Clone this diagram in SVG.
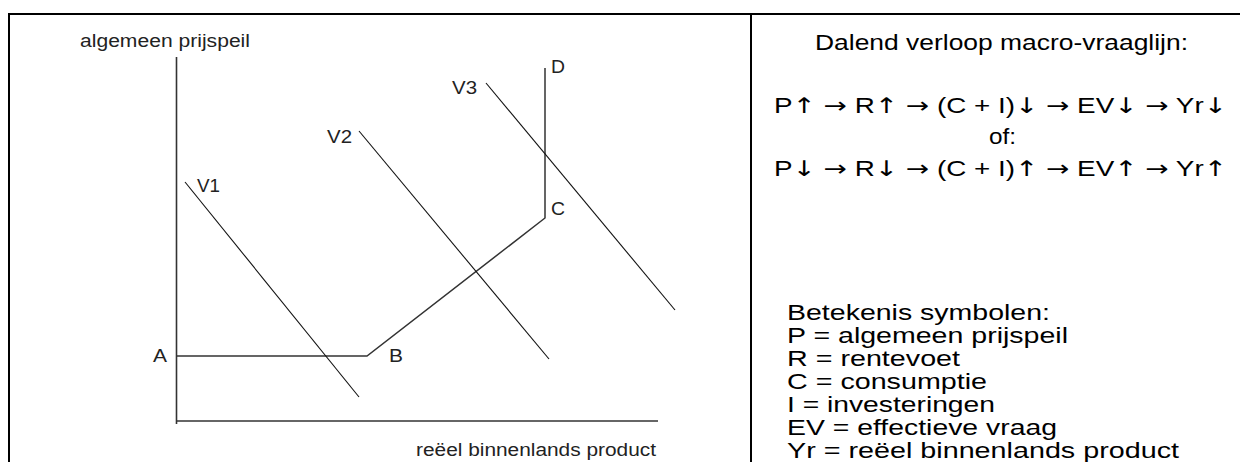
<svg xmlns="http://www.w3.org/2000/svg" width="1240" height="462" viewBox="0 0 1240 462">
<style>
.lbl{font-family:"Liberation Sans",Arial,sans-serif;font-size:17.5px;fill:#222}
.rt{font-family:"Liberation Sans",Arial,sans-serif;font-size:21.5px;fill:#000}
.ar{font-family:"DejaVu Sans",sans-serif;font-weight:normal}
.axis{stroke:#333;stroke-width:1.6;fill:none}
.curve{stroke:#111;stroke-width:1.1;fill:none}
.path{stroke:#333;stroke-width:1.5;fill:none}
</style>
<rect width="1240" height="462" fill="#fff"/>
<g id="frame">
<rect x="9" y="14" width="1240" height="470" fill="none" stroke="#000" stroke-width="2"/>
<line x1="751" y1="14" x2="751" y2="462" stroke="#000" stroke-width="2"/>
</g>
<g id="axes">
<line class="axis" x1="176.5" y1="57" x2="176.5" y2="424"/>
<line class="axis" x1="176" y1="421" x2="658" y2="421"/>
<text class="lbl" x="80" y="47" textLength="170" lengthAdjust="spacingAndGlyphs">algemeen prijspeil</text>
<text class="lbl" x="416" y="456" textLength="240" lengthAdjust="spacingAndGlyphs">reëel binnenlands product</text>
</g>
<g id="connectors">
<polyline class="path" points="176,356 367,356 545,218 545,68"/>
<line class="curve" x1="185" y1="182" x2="359" y2="397"/>
<line class="curve" x1="359" y1="131" x2="549" y2="359"/>
<line class="curve" x1="486" y1="83" x2="675" y2="310"/>
</g>
<g id="node-A"><text class="lbl" x="153" y="362" textLength="14" lengthAdjust="spacingAndGlyphs">A</text></g>
<g id="node-B"><text class="lbl" x="389" y="362" textLength="14" lengthAdjust="spacingAndGlyphs">B</text></g>
<g id="node-C"><text class="lbl" x="551" y="215" textLength="14" lengthAdjust="spacingAndGlyphs">C</text></g>
<g id="node-D"><text class="lbl" x="551" y="73" textLength="14" lengthAdjust="spacingAndGlyphs">D</text></g>
<g id="node-V1"><text class="lbl" x="197" y="192" textLength="23" lengthAdjust="spacingAndGlyphs">V1</text></g>
<g id="node-V2"><text class="lbl" x="327" y="143" textLength="25" lengthAdjust="spacingAndGlyphs">V2</text></g>
<g id="node-V3"><text class="lbl" x="452" y="94" textLength="25" lengthAdjust="spacingAndGlyphs">V3</text></g>
<g id="explanation">
<text class="rt" x="815" y="50" textLength="373" lengthAdjust="spacingAndGlyphs">Dalend verloop macro-vraaglijn:</text>
<text class="rt" x="774" y="113" textLength="453" lengthAdjust="spacingAndGlyphs">P<tspan class="ar">↑</tspan> <tspan class="ar">→</tspan> R<tspan class="ar">↑</tspan> <tspan class="ar">→</tspan> (C + I)<tspan class="ar">↓</tspan> <tspan class="ar">→</tspan> EV<tspan class="ar">↓</tspan> <tspan class="ar">→</tspan> Yr<tspan class="ar">↓</tspan></text>
<text class="rt" x="989" y="144" textLength="27" lengthAdjust="spacingAndGlyphs">of:</text>
<text class="rt" x="774" y="176" textLength="453" lengthAdjust="spacingAndGlyphs">P<tspan class="ar">↓</tspan> <tspan class="ar">→</tspan> R<tspan class="ar">↓</tspan> <tspan class="ar">→</tspan> (C + I)<tspan class="ar">↑</tspan> <tspan class="ar">→</tspan> EV<tspan class="ar">↑</tspan> <tspan class="ar">→</tspan> Yr<tspan class="ar">↑</tspan></text>
<text class="rt" x="787" y="320" textLength="263" lengthAdjust="spacingAndGlyphs">Betekenis symbolen:</text>
<text class="rt" x="787" y="343" textLength="281" lengthAdjust="spacingAndGlyphs">P = algemeen prijspeil</text>
<text class="rt" x="787" y="366" textLength="173" lengthAdjust="spacingAndGlyphs">R = rentevoet</text>
<text class="rt" x="787" y="389" textLength="200" lengthAdjust="spacingAndGlyphs">C = consumptie</text>
<text class="rt" x="787" y="412" textLength="208" lengthAdjust="spacingAndGlyphs">I = investeringen</text>
<text class="rt" x="787" y="435" textLength="270" lengthAdjust="spacingAndGlyphs">EV = effectieve vraag</text>
<text class="rt" x="787" y="458" textLength="392" lengthAdjust="spacingAndGlyphs">Yr = reëel binnenlands product</text>
</g>
</svg>
